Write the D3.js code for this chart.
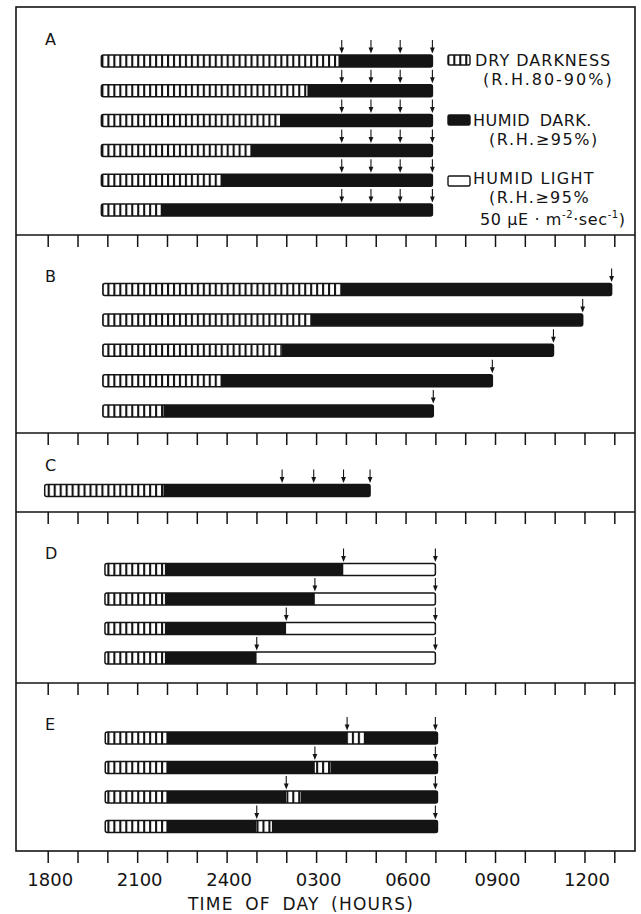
<!DOCTYPE html>
<html>
<head>
<meta charset="utf-8">
<script src="https://cdn.jsdelivr.net/npm/d3@7/dist/d3.min.js"></script>
<style>
body { margin: 0; background: #fff; }
svg text { font-family: "DejaVu Sans", sans-serif; fill: #141414; }
</style>
</head>
<body>
<script>
// clock hours running on past midnight: 18 = 1800, 24 = 2400, 31 = 0700 next day
var hourTicks = d3.range(18, 38);
var labelHours = [18, 21, 24, 27, 30, 33, 36];
var tickLabels = ["1800", "2100", "2400", "0300", "0600", "0900", "1200"];
var panelNames = ["A", "B", "C", "D", "E"];

// A: dry darkness then humid darkness, sampled at the 4 arrows
var startA = 19.8;
var dryEndA = [27.75, 26.71, 25.79, 24.8, 23.8, 21.79];
var endA = 30.9;
var arrowsA = [27.86, 28.84, 29.82, 30.9];

// B: humid darkness extended, one sample at the end
var startB = 19.85;
var dryEndB = [27.82, 26.82, 25.83, 23.8, 21.88];
var endB = [36.91, 35.94, 34.96, 32.91, 30.93];

// C
var startC = 17.9;
var dryEndC = 21.88;
var endC = 28.81;
var arrowsC = [25.86, 26.92, 27.92, 28.81];

// D: humid darkness then humid light
var startD = 19.92;
var dryEndD = 21.93;
var lightStartD = [27.92, 26.96, 26.0, 25.01];
var endD = 31.0;

// E: short dry break inside humid darkness
var startE = 19.93;
var dryEndE = 21.98;
var breakStartE = [28.04, 26.96, 26.0, 25.01];
var breakEndE = [28.64, 27.48, 26.48, 25.52];
var endE = 31.07;

var ink = "#141414";
var W = 641, H = 914;
var frameL = 16, frameR = 635;
var panelTop = [7, 235, 433, 512, 683];
var frameBottom = 851;
// first / last row centre, measured from the panel's top line
var rowFirst = [54, 54.5, 57.5, 57.5, 55];
var rowLast = [203, 176, 57.5, 146, 143.5];
var barH = 12;

var x = d3.scaleLinear().domain([18, 37]).range([47.7, 614.3]);

// build rows per panel
var panels = [[], [], [], [], []];
dryEndA.forEach(function (d) {
  panels[0].push({ segs: [[startA, d, "dry"], [d, endA, "dark"]], arrows: arrowsA });
});
dryEndB.forEach(function (d, i) {
  panels[1].push({ segs: [[startB, d, "dry"], [d, endB[i], "dark"]], arrows: [endB[i]] });
});
panels[2].push({ segs: [[startC, dryEndC, "dry"], [dryEndC, endC, "dark"]], arrows: arrowsC });
lightStartD.forEach(function (d) {
  panels[3].push({ segs: [[startD, dryEndD, "dry"], [dryEndD, d, "dark"], [d, endD, "light"]], arrows: [d, endD] });
});
breakStartE.forEach(function (d, i) {
  panels[4].push({ segs: [[startE, dryEndE, "dry"], [dryEndE, d, "dark"], [d, breakEndE[i], "dry"], [breakEndE[i], endE, "dark"]], arrows: [d, endD] });
});

var svg = d3.select("body").append("svg").attr("width", W).attr("height", H);
svg.append("rect").attr("width", W).attr("height", H).attr("fill", "#fff");

var step = x(18.2) - x(18);
var pat = svg.append("defs").append("pattern")
  .attr("id", "dry").attr("patternUnits", "userSpaceOnUse")
  .attr("width", step).attr("height", 40);
pat.append("rect").attr("width", step).attr("height", 40).attr("fill", "#fff");
pat.append("rect").attr("width", 2.1).attr("height", 40).attr("fill", ink);

var fills = { dry: "url(#dry)", dark: ink, light: "#fff" };

// frame and separators
svg.append("rect").attr("x", frameL).attr("y", panelTop[0])
  .attr("width", frameR - frameL).attr("height", frameBottom - panelTop[0])
  .attr("fill", "none").attr("stroke", ink).attr("stroke-width", 1.6);
panelTop.slice(1).forEach(function (t) {
  svg.append("line").attr("x1", frameL).attr("x2", frameR).attr("y1", t).attr("y2", t)
    .attr("stroke", ink).attr("stroke-width", 1.6);
});

// hanging ticks under each separator
panelTop.slice(1).forEach(function (t) {
  var g = svg.append("g").attr("transform", "translate(0," + t + ")")
    .call(d3.axisBottom(x).tickValues(hourTicks).tickSize(12).tickSizeOuter(0).tickFormat(""));
  g.select(".domain").remove();
  g.selectAll(".tick line").attr("stroke", ink).attr("stroke-width", 1.5);
});

// bottom axis with labels
var ax = svg.append("g").attr("transform", "translate(0," + frameBottom + ")")
  .call(d3.axisBottom(x).tickValues(hourTicks).tickSize(12).tickSizeOuter(0).tickPadding(10)
    .tickFormat(function (h) { var k = labelHours.indexOf(h); return k < 0 ? "" : tickLabels[k]; }));
ax.select(".domain").remove();
ax.selectAll(".tick line").attr("stroke", ink).attr("stroke-width", 1.5);
ax.selectAll(".tick text").attr("font-size", 18).attr("dx", 2)
  .style("font-family", "DejaVu Sans, sans-serif").attr("fill", ink);

svg.append("text").attr("x", 301).attr("y", 910).attr("text-anchor", "middle")
  .attr("font-size", 17).attr("letter-spacing", 1.2).attr("word-spacing", 5)
  .text("TIME OF DAY (HOURS)");

// panels
panels.forEach(function (rows, p) {
  var top = panelTop[p];
  var y = d3.scalePoint().domain(d3.range(rows.length))
    .range([top + rowFirst[p], top + rowLast[p]]);
  if (rows.length === 1) y = function () { return top + rowFirst[p]; };

  svg.append("text").attr("x", 45).attr("y", top + (p === 0 || p === 2 ? 38 : 47))
    .attr("font-size", 16).text(panelNames[p]);

  rows.forEach(function (r, i) {
    var cy = y(i), by = cy - barH / 2;
    var g = svg.append("g");
    g.selectAll("rect.seg").data(r.segs).enter().append("rect")
      .attr("x", function (s) { return x(s[0]); })
      .attr("width", function (s) { return x(s[1]) - x(s[0]); })
      .attr("y", by).attr("height", barH)
      .attr("fill", function (s) { return fills[s[2]]; });
    var s0 = r.segs[0][0], s1 = r.segs[r.segs.length - 1][1];
    g.append("rect").attr("x", x(s0)).attr("width", x(s1) - x(s0))
      .attr("y", by).attr("height", barH).attr("rx", 2)
      .attr("fill", "none").attr("stroke", ink).attr("stroke-width", 1.5);
    r.arrows.forEach(function (a) {
      var ax0 = x(a);
      g.append("line").attr("x1", ax0).attr("x2", ax0).attr("y1", by - 15).attr("y2", by - 5)
        .attr("stroke", ink).attr("stroke-width", 1.1);
      g.append("path").attr("d", "M" + (ax0 - 2.4) + "," + (by - 7.5) + "L" + (ax0 + 2.4) + "," + (by - 7.5) + "L" + ax0 + "," + (by - 1.5) + "Z")
        .attr("fill", ink);
    });
  });
});

// legend: [text, x, baseline, letter-spacing, word-spacing]
var legItems = [
  { key: "dry", y: 55, lines: [["DRY DARKNESS", 475, 66, 1, 0], ["(R.H.80-90%)", 483, 85, 2, 0]] },
  { key: "dark", y: 115, lines: [["HUMID DARK.", 473, 126, 0.5, 4], ["(R.H.\u226595%)", 489, 145, 1.6, 0]] },
  { key: "light", y: 176, lines: [["HUMID LIGHT", 473, 184, 1.3, 0], ["(R.H.\u226595%", 489, 203, 1.5, 0]] }
];
legItems.forEach(function (it) {
  svg.append("rect").attr("x", 448).attr("y", it.y).attr("width", 22).attr("height", 10)
    .attr("fill", fills[it.key]);
  svg.append("rect").attr("x", 448).attr("y", it.y).attr("width", 22).attr("height", 10).attr("rx", 1.5)
    .attr("fill", "none").attr("stroke", ink).attr("stroke-width", 1.4);
  it.lines.forEach(function (l) {
    svg.append("text").attr("x", l[1]).attr("y", l[2]).attr("font-size", 16)
      .attr("letter-spacing", l[3]).attr("word-spacing", l[4]).text(l[0]);
  });
});
var unit = svg.append("text").attr("x", 480).attr("y", 225).attr("font-size", 16).attr("letter-spacing", 0.6);
unit.append("tspan").text("50 \u03bcE \u00b7 m");
unit.append("tspan").attr("dy", -7).attr("font-size", 10).text("-2");
unit.append("tspan").attr("dy", 7).text("\u00b7sec");
unit.append("tspan").attr("dy", -7).attr("font-size", 10).text("-1");
unit.append("tspan").attr("dy", 7).text(")");
</script>
</body>
</html>
